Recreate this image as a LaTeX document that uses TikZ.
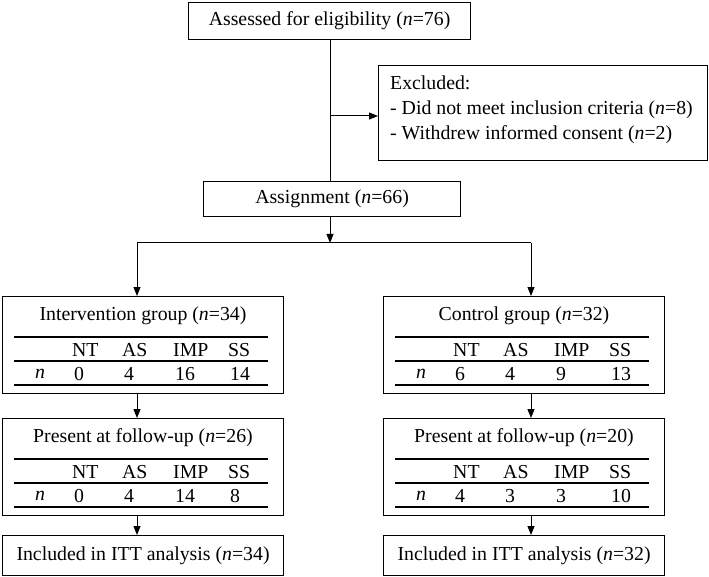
\documentclass[tikz,border=0pt]{standalone}
\usepackage{fontspec}
\setmainfont{Liberation Serif}
\usetikzlibrary{arrows.meta}
\newcommand\nn{\textit{n}}
\tikzset{
  box/.style={draw, line width=1.1pt, anchor=north west, inner sep=0pt},
  txt/.style={font=\fontsize{19.8}{25}\selectfont, inner sep=0pt},
  cell/.style={txt, anchor=west},
  arr/.style={line width=1pt, -{Triangle[length=9pt,width=7pt]}},
  ln/.style={line width=1pt},
  tl/.style={line width=1.4pt}
}
\newcommand\grpbox[8]{% name, x, y, title, NT, AS, IMP, SS
  \node[box, minimum width=281pt, minimum height=97pt] (#1) at (#2,#3) {};
  \node[txt] (#1t) at (#2+141,#3+20) {#4};
  \draw[tl] (#2+12,#3+41) -- (#2+266,#3+41);
  \draw[tl] (#2+12,#3+65) -- (#2+266,#3+65);
  \draw[tl] (#2+12,#3+89) -- (#2+266,#3+89);
  \node[cell] (#1h1) at (#2+70,#3+54) {NT};
  \node[cell] (#1h2) at (#2+120,#3+54) {AS};
  \node[cell] (#1h3) at (#2+171,#3+54) {IMP};
  \node[cell] (#1h4) at (#2+226,#3+54) {SS};
  \node[cell] (#1n) at (#2+33,#3+78) {\nn};
  \node[cell] (#1v1) at (#2+72,#3+78) {#5};
  \node[cell] (#1v2) at (#2+122,#3+78) {#6};
  \node[cell] (#1v3) at (#2+173,#3+78) {#7};
  \node[cell] (#1v4) at (#2+228,#3+78) {#8};
}
\begin{document}
\begin{tikzpicture}[x=1pt,y=-1pt]
\useasboundingbox (0,0) rectangle (709,577);
\node[box, minimum width=282pt, minimum height=37pt] (top) at (188,2) {};
\node[txt] at (top.center) {Assessed for eligibility (\nn=76)};
\node[box, minimum width=329pt, minimum height=95pt] (exc) at (378,65) {};
\node[txt, anchor=west, align=left] at (390,110) {Excluded:\\- Did not meet inclusion criteria (\nn=8)\\- Withdrew informed consent (\nn=2)};
\node[box, minimum width=257pt, minimum height=35pt] (asg) at (203,181) {};
\node[txt] at (asg.center) {Assignment (\nn=66)};
\coordinate (M) at (330,0);
\coordinate (La) at (137,0);
\coordinate (Ra) at (531,0);
\coordinate (split) at (330,243);
\draw[ln] (top.south -| M) -- (asg.north -| M);
\draw[arr] (330,116) -- (exc.west |- 0,116);
\draw[arr] (asg.south -| M) -- (split);
\grpbox{ig}{2}{296}{Intervention group (\nn=34)}{0}{4}{16}{14}
\grpbox{cg}{383}{296}{Control group (\nn=32)}{6}{4}{9}{13}
\grpbox{ip}{2}{418}{Present at follow-up (\nn=26)}{0}{4}{14}{8}
\grpbox{cp}{383}{418}{Present at follow-up (\nn=20)}{4}{3}{3}{10}
\draw[ln] (split -| La) -- (split -| Ra);
\draw[arr] (split -| La) -- (ig.north -| La);
\draw[arr] (split -| Ra) -- (cg.north -| Ra);
\draw[arr] (ig.south -| La) -- (ip.north -| La);
\draw[arr] (cg.south -| Ra) -- (cp.north -| Ra);
\node[box, minimum width=281pt, minimum height=40pt] (ii) at (2,535) {};
\node[txt] at (ii.center) {Included in ITT analysis (\nn=34)};
\node[box, minimum width=281pt, minimum height=40pt] (ci) at (383,535) {};
\node[txt] at (ci.center) {Included in ITT analysis (\nn=32)};
\draw[arr] (ip.south -| La) -- (ii.north -| La);
\draw[arr] (cp.south -| Ra) -- (ci.north -| Ra);
\end{tikzpicture}
\end{document}
